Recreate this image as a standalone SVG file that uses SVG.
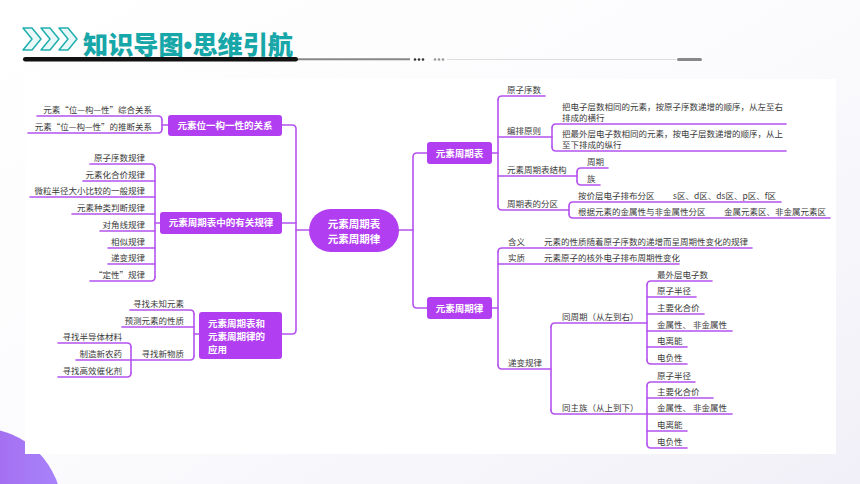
<svg xmlns="http://www.w3.org/2000/svg" width="860" height="484" viewBox="0 0 860 484">
<defs>
<linearGradient id="bg" x1="0" y1="0" x2="1" y2="1">
<stop offset="0" stop-color="#ffffff"/><stop offset="0.5" stop-color="#fbfbfd"/><stop offset="1" stop-color="#f1f0f8"/>
</linearGradient>
<linearGradient id="blob" x1="0" y1="0" x2="1" y2="0">
<stop offset="0" stop-color="#9e4fe0"/><stop offset="1" stop-color="#a884fb"/>
</linearGradient>
<style>
.ln{fill:none;stroke:#b452ef;stroke-width:1.6;stroke-linecap:round}
.nd{fill:#b13ff1}
.nt{font-family:"Noto Sans CJK SC","Noto Sans",sans-serif;font-size:9.5px;font-weight:bold;fill:#ffffff}
.t{font-family:"Noto Sans CJK SC","Noto Sans",sans-serif;font-size:8.5px;fill:#3a3a3a}
.e{text-anchor:end}
.ttl{font-family:"Noto Sans CJK SC","Noto Sans",sans-serif;font-size:25px;font-weight:900;fill:#17a7a8}
</style>
</defs>
<rect width="860" height="484" fill="url(#bg)"/>
<circle cx="-20" cy="510" r="82" fill="url(#blob)"/>
<rect x="25" y="79" width="811" height="375" fill="#ffffff"/>
<g id="header">
<g fill="#e8f8f8" stroke="#20aeae" stroke-width="1.5" stroke-linejoin="round">
<polygon points="23,28 32,28 41,39 32,50 23,50 32,39"/>
<polygon points="41,28 50,28 59,39 50,50 41,50 50,39"/>
<polygon points="59,28 68,28 77,39 68,50 59,50 68,39"/>
</g>
<text class="ttl" x="83" y="54" textLength="210" lengthAdjust="spacingAndGlyphs">知识导图<tspan font-family="Liberation Sans,sans-serif">•</tspan>思维引航</text>
<rect x="23" y="57" width="275" height="4.5" rx="2.25" fill="#111"/>
<line x1="298" y1="59.3" x2="410" y2="59.3" stroke="#888" stroke-width="2"/>
<g fill="#333"><circle cx="415" cy="59.5" r="1.3"/><circle cx="419" cy="59.5" r="1.3"/><circle cx="423" cy="59.5" r="1.3"/></g>
<g fill="#999"><circle cx="435" cy="59.5" r="1.3"/><circle cx="439" cy="59.5" r="1.3"/><circle cx="443" cy="59.5" r="1.3"/></g>
<line x1="447" y1="59.5" x2="676" y2="59.5" stroke="#ddd" stroke-width="1"/>
<rect x="677" y="58" width="25" height="3" rx="1.5" fill="#888"/>
</g>
<g id="connectors" class="ln">
<path d="M282,125 H292 Q296,125 296,129 V330 Q296,334 292,334 H282"/>
<path d="M296,230 H309"/>
<path d="M282,223 H296"/>
<path d="M427,153 H417 Q413,153 413,157 V304 Q413,308 417,308 H427"/>
<path d="M399,230 H413"/>
<path d="M168,125 H162"/>
<path d="M162,120 Q162,116 158,116 H37"/>
<path d="M162,129 Q162,133 158,133 H28"/>
<path d="M162,120 V129"/>
<path d="M160,223 H155"/>
<path d="M155,168 Q155,164 151,164 H90"/>
<path d="M155,181 H83"/>
<path d="M155,197 H30"/>
<path d="M155,214 H72"/>
<path d="M155,231 H100"/>
<path d="M155,248 H108"/>
<path d="M155,264 H108"/>
<path d="M155,277 Q155,281 151,281 H90"/>
<path d="M155,168 V277"/>
<path d="M199,334 H194"/>
<path d="M194,314 Q194,310 190,310 H130"/>
<path d="M194,327 H122"/>
<path d="M194,356 Q194,360 190,360 H131"/>
<path d="M194,314 V356"/>
<path d="M131,347 Q131,343 127,343 H58"/>
<path d="M131,360 H76"/>
<path d="M131,373 Q131,377 127,377 H58"/>
<path d="M131,347 V373"/>
<path d="M492,153 H498"/>
<path d="M498,100 Q498,96 502,96 H545"/>
<path d="M498,137 H552"/>
<path d="M498,176 H577"/>
<path d="M498,206 Q498,210 502,210 H569"/>
<path d="M498,100 V206"/>
<path d="M552,128 Q552,124 556,124 H786"/>
<path d="M552,147 Q552,151 556,151 H786"/>
<path d="M552,128 V147"/>
<path d="M577,172 Q577,168 581,168 H608"/>
<path d="M577,181 Q577,185 581,185 H600"/>
<path d="M577,172 V181"/>
<path d="M569,206 Q569,202 573,202 H781"/>
<path d="M569,214 Q569,218 573,218 H830"/>
<path d="M569,206 V214"/>
<path d="M492,308 H498"/>
<path d="M498,252 Q498,248 502,248 H752"/>
<path d="M498,264 H679"/>
<path d="M498,365 Q498,369 502,369 H551"/>
<path d="M498,252 V365"/>
<path d="M551,327 Q551,323 555,323 H647"/>
<path d="M551,410 Q551,414 555,414 H647"/>
<path d="M551,327 V410"/>
<path d="M647,285 Q647,281 651,281 H712"/>
<path d="M647,297 H696"/>
<path d="M647,314 H704"/>
<path d="M647,331 H732"/>
<path d="M647,347 H687"/>
<path d="M647,360 Q647,364 651,364 H687"/>
<path d="M647,285 V360"/>
<path d="M647,386 Q647,382 651,382 H695"/>
<path d="M647,398 H713"/>
<path d="M647,414 H732"/>
<path d="M647,431 H687"/>
<path d="M647,444 Q647,448 651,448 H687"/>
<path d="M647,386 V444"/>
</g>
<g id="center">
<rect class="nd" x="309" y="209" width="90" height="43" rx="21.5"/>
<text class="nt" x="354" y="228" text-anchor="middle" style="font-size:10.5px">元素周期表</text>
<text class="nt" x="354" y="243" text-anchor="middle" style="font-size:10.5px">元素周期律</text>
</g>
<g id="n-wgx">
<rect class="nd" x="168" y="115" width="114" height="21" rx="3"/>
<text class="nt" x="225" y="128.8" text-anchor="middle">元素位一构一性的关系</text>
<text class="t e" x="152" y="113">元素“位—构—性”综合关系</text>
<text class="t e" x="152" y="130">元素“位—构—性”的推断关系</text>
</g>
<g id="n-gl">
<rect class="nd" x="160" y="212" width="122" height="22" rx="3"/>
<text class="nt" x="221" y="226.3" text-anchor="middle">元素周期表中的有关规律</text>
<text class="t e" x="145" y="160.5">原子序数规律</text>
<text class="t e" x="145" y="177.5">元素化合价规律</text>
<text class="t e" x="145" y="193.5">微粒半径大小比较的一般规律</text>
<text class="t e" x="145" y="210.5">元素种类判断规律</text>
<text class="t e" x="145" y="227.5">对角线规律</text>
<text class="t e" x="145" y="244.5">相似规律</text>
<text class="t e" x="145" y="260.5">递变规律</text>
<text class="t e" x="145" y="277.5">“定性”规律</text>
</g>
<g id="n-yy">
<rect class="nd" x="199" y="312" width="83" height="47" rx="3"/>
<text class="nt" x="208" y="326.5">元素周期表和</text>
<text class="nt" x="208" y="339.5">元素周期律的</text>
<text class="nt" x="208" y="352.5">应用</text>
<text class="t e" x="184" y="306.5">寻找未知元素</text>
<text class="t e" x="184" y="323.5">预测元素的性质</text>
<text class="t e" x="184" y="356.5">寻找新物质</text>
<text class="t e" x="122" y="339.5">寻找半导体材料</text>
<text class="t e" x="122" y="356.5">制造新农药</text>
<text class="t e" x="122" y="373.5">寻找高效催化剂</text>
</g>
<g id="n-zqb">
<rect class="nd" x="427" y="142" width="65" height="22" rx="3"/>
<text class="nt" x="459.5" y="156.5" text-anchor="middle">元素周期表</text>
<text class="t" x="507" y="92.5">原子序数</text>
<text class="t" x="507" y="133.5">编排原则</text>
<text class="t" x="562" y="109.5">把电子层数相同的元素，按原子序数递增的顺序，从左至右</text>
<text class="t" x="562" y="120.5">排成的横行</text>
<text class="t" x="562" y="137">把最外层电子数相同的元素，按电子层数递增的顺序，从上</text>
<text class="t" x="562" y="148">至下排成的纵行</text>
<text class="t" x="507" y="172.5">元素周期表结构</text>
<text class="t" x="587" y="164.5">周期</text>
<text class="t" x="587" y="181.5">族</text>
<text class="t" x="507" y="206.5">周期表的分区</text>
<text class="t" x="578" y="198.5">按价层电子排布分区</text>
<text class="t" x="673" y="198.5">s区、d区、ds区、p区、f区</text>
<text class="t" x="578" y="214.5">根据元素的金属性与非金属性分区</text>
<text class="t" x="724" y="214.5">金属元素区、非金属元素区</text>
</g>
<g id="n-zql">
<rect class="nd" x="427" y="297" width="65" height="22" rx="3"/>
<text class="nt" x="459.5" y="311.5" text-anchor="middle">元素周期律</text>
<text class="t" x="508" y="244.5">含义</text>
<text class="t" x="544" y="244.5">元素的性质随着原子序数的递增而呈周期性变化的规律</text>
<text class="t" x="508" y="260.5">实质</text>
<text class="t" x="544" y="260.5">元素原子的核外电子排布周期性变化</text>
<text class="t" x="508" y="365.5">递变规律</text>
<text class="t" x="562" y="319.5">同周期（从左到右）</text>
<text class="t" x="657" y="277.5">最外层电子数</text>
<text class="t" x="657" y="293.5">原子半径</text>
<text class="t" x="657" y="310.5">主要化合价</text>
<text class="t" x="657" y="327.5">金属性、 非金属性</text>
<text class="t" x="657" y="343.5">电离能</text>
<text class="t" x="657" y="360.5">电负性</text>
<text class="t" x="562" y="410.5">同主族（从上到下）</text>
<text class="t" x="657" y="378.5">原子半径</text>
<text class="t" x="657" y="394.5">主要化合价</text>
<text class="t" x="657" y="410.5">金属性、 非金属性</text>
<text class="t" x="657" y="427.5">电离能</text>
<text class="t" x="657" y="444.5">电负性</text>
</g>
</svg>
